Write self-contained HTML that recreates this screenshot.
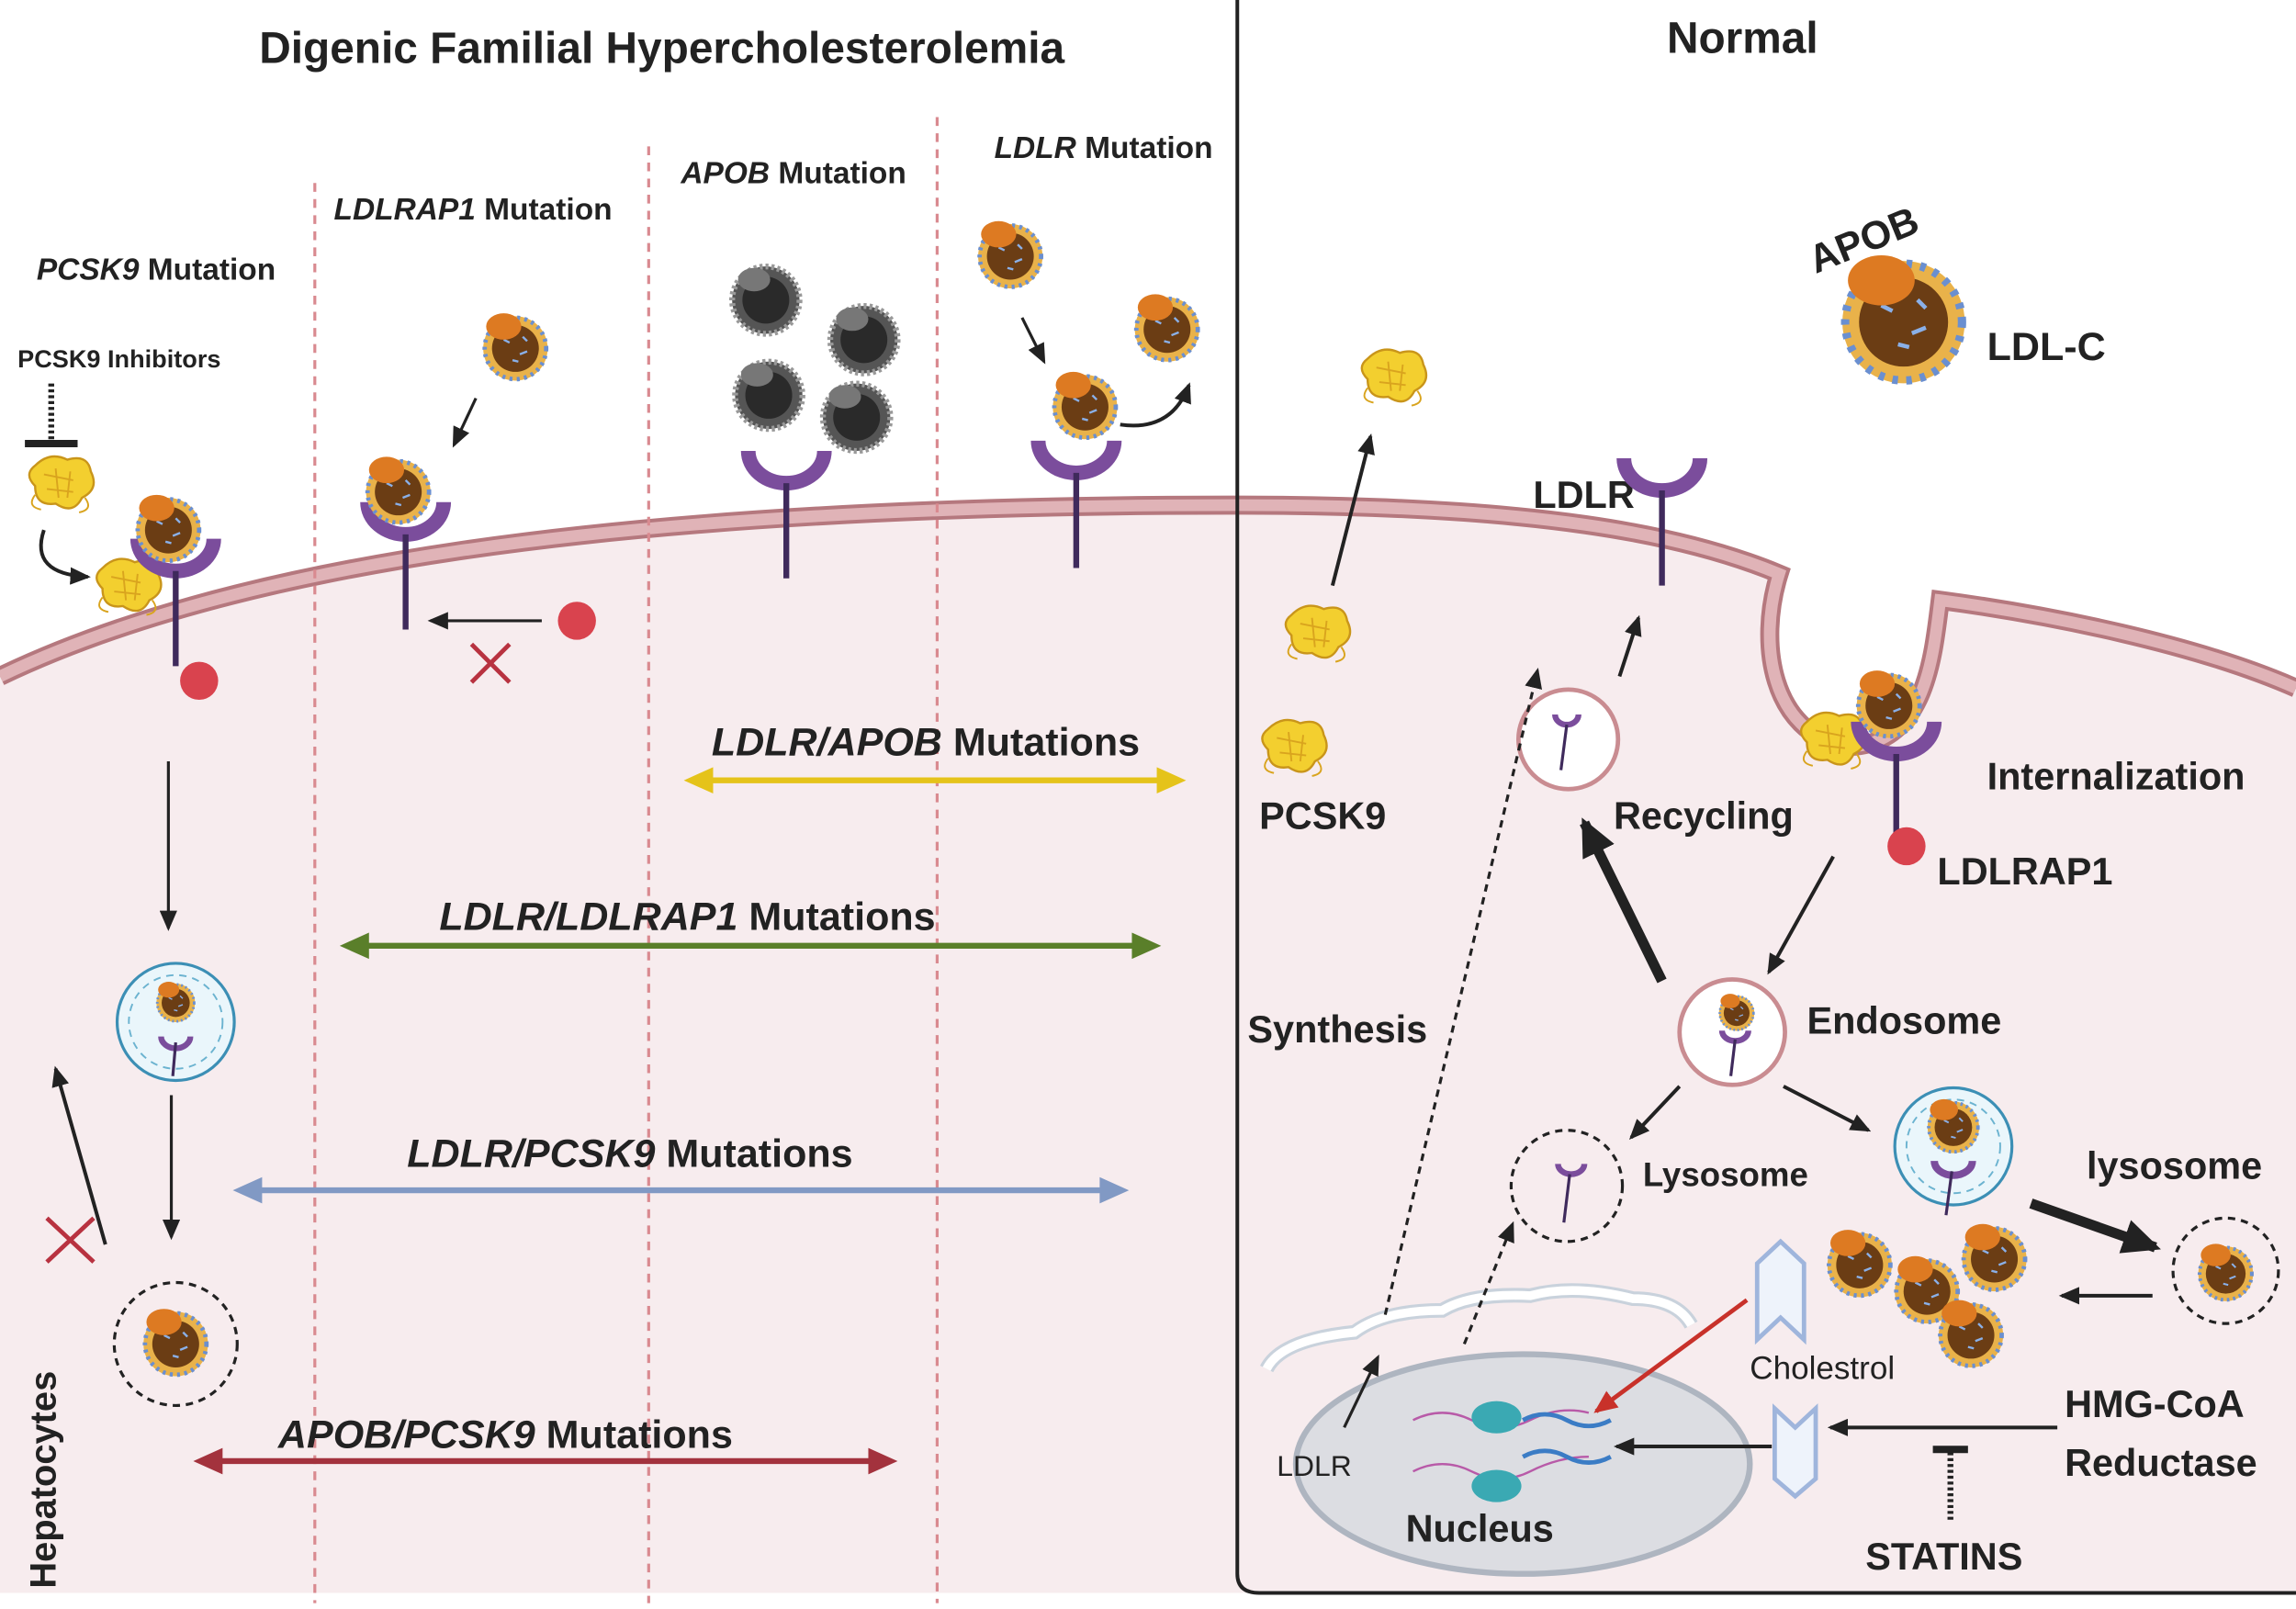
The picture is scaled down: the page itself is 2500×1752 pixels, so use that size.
<!DOCTYPE html>
<html><head><meta charset="utf-8"><style>
html,body{margin:0;padding:0;background:#fff}
svg{display:block}
text{font-family:"Liberation Sans",sans-serif;fill:#222}
.b{font-weight:bold}
</style></head><body>
<svg width="2500" height="1752" viewBox="0 0 1568 1099" preserveAspectRatio="none" xmlns="http://www.w3.org/2000/svg">
<defs>
<marker id="ah" markerWidth="14" markerHeight="12" refX="12" refY="6" orient="auto" markerUnits="userSpaceOnUse"><path d="M0,0 L14,6 L0,12 z" fill="#222"/></marker>
<marker id="ahr" markerWidth="16" markerHeight="14" refX="14" refY="7" orient="auto" markerUnits="userSpaceOnUse"><path d="M0,0 L16,7 L0,14 z" fill="#c8312a"/></marker>
<marker id="ahb" markerWidth="26" markerHeight="24" refX="22" refY="12" orient="auto" markerUnits="userSpaceOnUse"><path d="M0,0 L26,12 L0,24 z" fill="#222"/></marker>
<g id="ldl"><circle r="22" fill="#e9b24a"/><circle r="16" fill="#6b3d14"/><circle r="21" fill="none" stroke="#6a8fd0" stroke-width="3" stroke-dasharray="2 3"/><path d="M-8,-6 l4,2 M3,4 l5,-2 M-2,8 l4,1 M5,-8 l3,3" stroke="#8ab0e8" stroke-width="1.5"/><ellipse cx="-8" cy="-15" rx="12" ry="9" fill="#dd7a22"/></g>
<g id="gld"><circle r="23" fill="#555"/><circle r="16" fill="#2a2a2a"/><circle r="23" fill="none" stroke="#999" stroke-width="4" stroke-dasharray="2 2"/><ellipse cx="-8" cy="-14" rx="11" ry="8" fill="#777"/></g>
<g id="pc"><path d="M-18,-12 q10,-10 22,-4 q14,-4 16,8 q6,12 -6,18 q-6,12 -18,4 q-14,2 -14,-12 q-8,-8 0,-14z" fill="#f3cf2f" stroke="#c9951a" stroke-width="1.5"/><path d="M-12,-6 l20,4 M-10,4 l18,2 M-4,-10 l2,20 M6,-8 l-2,18" stroke="#d9a41e" stroke-width="1.2"/><path d="M-18,8 q-6,8 4,10 M16,10 q6,8 -4,10" fill="none" stroke="#d9a41e" stroke-width="1.2"/></g>
<g id="rec"><path d="M-26,-22 a26,22 0 0 0 52,0" fill="none" stroke="#7b4d9c" stroke-width="10"/><line x1="0" y1="0" x2="0" y2="65" stroke="#3f2a5c" stroke-width="4"/></g>
</defs>
<path d="M0,462 C150,390 400,345 845,345 C1050,345 1150,365 1215,392 C1200,440 1210,500 1260,510 C1315,510 1320,450 1325,410 C1400,420 1500,440 1568,470 L1568,1088 L0,1088 Z" fill="#f7ecee"/>
<path d="M0,462 C150,390 400,345 845,345 C1050,345 1150,365 1215,392 C1200,440 1210,500 1260,510 C1315,510 1320,450 1325,410 C1400,420 1500,440 1568,470" fill="none" stroke="#b5787e" stroke-width="13"/>
<path d="M0,462 C150,390 400,345 845,345 C1050,345 1150,365 1215,392 C1200,440 1210,500 1260,510 C1315,510 1320,450 1325,410 C1400,420 1500,440 1568,470" fill="none" stroke="#e0b3b7" stroke-width="8"/>
<path d="M845,0 L845,1075 Q845,1088 860,1088 L1568,1088" fill="none" stroke="#222" stroke-width="2.5"/>
<g stroke="#d98a90" stroke-width="2" stroke-dasharray="6 5"><line x1="215" y1="125" x2="215" y2="1095"/><line x1="443" y1="100" x2="443" y2="1095"/><line x1="640" y1="80" x2="640" y2="1095"/></g>
<text x="452" y="43" font-size="30" text-anchor="middle" class="b">Digenic Familial Hypercholesterolemia</text>
<text x="1190" y="36" font-size="30" text-anchor="middle" class="b">Normal</text>
<text x="25" y="191" font-size="21" class="b"><tspan font-style="italic">PCSK9</tspan> Mutation</text>
<text x="228" y="150" font-size="21" class="b"><tspan font-style="italic">LDLRAP1</tspan> Mutation</text>
<text x="465" y="125" font-size="21" class="b"><tspan font-style="italic">APOB</tspan> Mutation</text>
<text x="679" y="108" font-size="21" class="b"><tspan font-style="italic">LDLR</tspan> Mutation</text>
<text x="12" y="251" font-size="17" class="b">PCSK9 Inhibitors</text>
<line x1="35" y1="262" x2="35" y2="300" stroke="#222" stroke-width="4" stroke-dasharray="2 2"/><line x1="17" y1="303" x2="53" y2="303" stroke="#222" stroke-width="5"/>
<use href="#pc" x="42" y="330"/>
<path d="M30,362 q-10,30 30,32" fill="none" stroke="#222" stroke-width="2.5" marker-end="url(#ah)"/>
<use href="#pc" x="88" y="400"/>
<use href="#rec" x="120" y="390"/>
<use href="#ldl" x="115" y="362"/>
<circle cx="136" cy="465" r="13" fill="#d9434e"/>
<line x1="115" y1="520" x2="115" y2="634" stroke="#222" stroke-width="2" marker-end="url(#ah)"/>
<circle cx="120" cy="698" r="40" fill="#eaf6fb" stroke="#3c8fb5" stroke-width="2"/><circle cx="120" cy="698" r="32" fill="none" stroke="#6bb3d0" stroke-width="1.2" stroke-dasharray="5 4"/>
<g transform="translate(120,685) scale(0.6)"><use href="#ldl"/></g><path d="M110,708 a10,8 0 0 0 20,0" fill="none" stroke="#7b4d9c" stroke-width="4"/><line x1="120" y1="712" x2="118" y2="735" stroke="#3f2a5c" stroke-width="2"/>
<line x1="117" y1="748" x2="117" y2="845" stroke="#222" stroke-width="2" marker-end="url(#ah)"/>
<circle cx="120" cy="918" r="42" fill="none" stroke="#222" stroke-width="2" stroke-dasharray="5 4"/>
<use href="#ldl" x="120" y="918"/>
<line x1="72" y1="850" x2="38" y2="730" stroke="#222" stroke-width="2.5" marker-end="url(#ah)"/>
<path d="M32,832 l32,30 M64,832 l-32,30" stroke="#b83240" stroke-width="3"/>
<text transform="translate(38,1085) rotate(-90)" font-size="25" class="b">Hepatocytes</text>
<use href="#ldl" x="352" y="238"/>
<line x1="325" y1="272" x2="310" y2="304" stroke="#222" stroke-width="2" marker-end="url(#ah)"/>
<use href="#rec" x="277" y="365"/><use href="#ldl" x="272" y="336"/>
<line x1="370" y1="424" x2="294" y2="424" stroke="#222" stroke-width="2" marker-end="url(#ah)"/>
<circle cx="394" cy="424" r="13" fill="#d9434e"/>
<path d="M322,440 l26,26 M348,440 l-26,26" stroke="#b83240" stroke-width="3"/>
<use href="#gld" x="523" y="205"/><use href="#gld" x="590" y="232"/><use href="#gld" x="525" y="270"/><use href="#gld" x="585" y="285"/>
<use href="#rec" x="537" y="330"/>
<use href="#ldl" x="690" y="175"/><use href="#ldl" x="797" y="225"/>
<line x1="698" y1="217" x2="713" y2="247" stroke="#222" stroke-width="2" marker-end="url(#ah)"/>
<use href="#ldl" x="741" y="278"/>
<path d="M765,290 q35,5 47,-27" fill="none" stroke="#222" stroke-width="2.5" marker-end="url(#ah)"/>
<use href="#rec" x="735" y="323"/>
<g stroke-width="4">
<line x1="480" y1="533" x2="797" y2="533" stroke="#e5c31a"/><path d="M467,533 l20,-9 v18z M810,533 l-20,-9 v18z" fill="#e5c31a"/>
<line x1="245" y1="646" x2="780" y2="646" stroke="#5a7f2a"/><path d="M232,646 l20,-9 v18z M793,646 l-20,-9 v18z" fill="#5a7f2a"/>
<line x1="172" y1="813" x2="758" y2="813" stroke="#8199c4"/><path d="M159,813 l20,-9 v18z M771,813 l-20,-9 v18z" fill="#8199c4"/>
<line x1="145" y1="998" x2="600" y2="998" stroke="#a3323d"/><path d="M132,998 l20,-9 v18z M613,998 l-20,-9 v18z" fill="#a3323d"/>
</g>
<text x="486" y="516" font-size="27" class="b"><tspan font-style="italic">LDLR/APOB</tspan>  Mutations</text>
<text x="300" y="635" font-size="27" class="b"><tspan font-style="italic">LDLR/LDLRAP1</tspan> Mutations</text>
<text x="278" y="797" font-size="27" class="b"><tspan font-style="italic">LDLR/PCSK9</tspan> Mutations</text>
<text x="190" y="989" font-size="27" class="b"><tspan font-style="italic">APOB/PCSK9</tspan> Mutations</text>
<g transform="translate(1300,220) scale(1.9)"><use href="#ldl"/></g>
<text transform="translate(1240,187) rotate(-22)" font-size="27" class="b">APOB</text>
<text x="1357" y="246" font-size="27" class="b">LDL-C</text>
<use href="#pc" x="952" y="257"/>
<line x1="910" y1="400" x2="936" y2="298" stroke="#222" stroke-width="2.5" marker-end="url(#ah)"/>
<use href="#pc" x="900" y="432"/><use href="#pc" x="884" y="510"/>
<text x="860" y="566" font-size="26" class="b">PCSK9</text>
<text x="1047" y="347" font-size="26" class="b">LDLR</text>
<use href="#rec" x="1135" y="335"/>
<line x1="1106" y1="462" x2="1119" y2="422" stroke="#222" stroke-width="2.5" marker-end="url(#ah)"/>
<circle cx="1071" cy="505" r="34" fill="#fff" stroke="#c98c91" stroke-width="3"/><path d="M1062,488 a8,7 0 0 0 16,0" fill="none" stroke="#7b4d9c" stroke-width="4"/><line x1="1070" y1="495" x2="1066" y2="526" stroke="#3f2a5c" stroke-width="2"/>
<text x="1102" y="566" font-size="26" class="b">Recycling</text>
<use href="#pc" x="1252" y="505"/><use href="#rec" x="1295" y="515"/><use href="#ldl" x="1290" y="482"/>
<circle cx="1302" cy="578" r="13" fill="#d9434e"/>
<text x="1357" y="539" font-size="26" class="b">Internalization</text>
<text x="1323" y="604" font-size="26" class="b">LDLRAP1</text>
<line x1="1252" y1="585" x2="1208" y2="664" stroke="#222" stroke-width="2.5" marker-end="url(#ah)"/>
<line x1="1135" y1="670" x2="1082" y2="562" stroke="#222" stroke-width="7" marker-end="url(#ahb)"/>
<circle cx="1183" cy="705" r="36" fill="#fff" stroke="#c98c91" stroke-width="3"/><g transform="translate(1186,692) scale(0.55)"><use href="#ldl"/></g><path d="M1176,704 a9,7 0 0 0 18,0" fill="none" stroke="#7b4d9c" stroke-width="4"/><line x1="1185" y1="710" x2="1182" y2="735" stroke="#3f2a5c" stroke-width="2"/>
<text x="1234" y="706" font-size="26" class="b">Endosome</text>
<text x="852" y="712" font-size="26" class="b">Synthesis</text>
<line x1="1147" y1="742" x2="1114" y2="777" stroke="#222" stroke-width="2.5" marker-end="url(#ah)"/>
<line x1="1218" y1="742" x2="1276" y2="772" stroke="#222" stroke-width="2.5" marker-end="url(#ah)"/>
<circle cx="1070" cy="810" r="38" fill="none" stroke="#222" stroke-width="2" stroke-dasharray="5 4"/><path d="M1064,795 a9,7 0 0 0 18,0" fill="none" stroke="#7b4d9c" stroke-width="4"/><line x1="1072" y1="802" x2="1068" y2="835" stroke="#3f2a5c" stroke-width="2"/>
<text x="1122" y="810" font-size="23" class="b">Lysosome</text>
<circle cx="1334" cy="783" r="40" fill="#eaf6fb" stroke="#3c8fb5" stroke-width="2"/><circle cx="1334" cy="783" r="32" fill="none" stroke="#6bb3d0" stroke-width="1.2" stroke-dasharray="5 4"/>
<g transform="translate(1334,770) scale(0.8)"><use href="#ldl"/></g><path d="M1321,793 a12,9 0 0 0 26,0" fill="none" stroke="#7b4d9c" stroke-width="5"/><line x1="1333" y1="800" x2="1329" y2="830" stroke="#3f2a5c" stroke-width="2"/>
<text x="1425" y="805" font-size="26" class="b">lysosome</text>
<line x1="1387" y1="822" x2="1472" y2="852" stroke="#222" stroke-width="7" marker-end="url(#ahb)"/>
<circle cx="1520" cy="868" r="36" fill="none" stroke="#222" stroke-width="2" stroke-dasharray="5 4"/><g transform="translate(1520,870) scale(0.85)"><use href="#ldl"/></g>
<line x1="1470" y1="885" x2="1408" y2="885" stroke="#222" stroke-width="2.5" marker-end="url(#ah)"/>
<use href="#ldl" x="1270" y="864"/><use href="#ldl" x="1316" y="882"/><use href="#ldl" x="1362" y="860"/><use href="#ldl" x="1346" y="912"/>
<path d="M1200,915 V863 L1216,848 L1232,863 V915 L1216,900 Z" fill="#eef3fb" stroke="#9fb5dc" stroke-width="3"/>
<path d="M1212,1010 V962 L1226,975 L1240,962 V1010 L1226,1022 Z" fill="#eef3fb" stroke="#9fb5dc" stroke-width="3"/>
<text x="1195" y="942" font-size="22">Cholestrol</text>
<line x1="1405" y1="975" x2="1250" y2="975" stroke="#222" stroke-width="2.5" marker-end="url(#ah)"/>
<text x="1410" y="968" font-size="26" class="b">HMG-CoA</text>
<text x="1410" y="1008" font-size="26" class="b">Reductase</text>
<line x1="1320" y1="990" x2="1344" y2="990" stroke="#222" stroke-width="5"/><line x1="1332" y1="992" x2="1332" y2="1040" stroke="#222" stroke-width="4" stroke-dasharray="2 2"/>
<text x="1274" y="1072" font-size="26" class="b">STATINS</text>
<path d="M865,935 q10,-20 60,-25 q20,-15 60,-15 q20,-12 60,-10 q30,-8 70,2 q30,0 40,18" fill="none" stroke="#c9d2dc" stroke-width="10"/>
<path d="M865,935 q10,-20 60,-25 q20,-15 60,-15 q20,-12 60,-10 q30,-8 70,2 q30,0 40,18" fill="none" stroke="#fff" stroke-width="6"/>
<ellipse cx="1040" cy="1000" rx="155" ry="75" fill="#dcdde2" stroke="#aeb5c0" stroke-width="4"/>
<path d="M965,970 q20,-10 40,0 t40,0 t40,-5 M965,1005 q20,-10 40,0 t40,0 t40,-10" fill="none" stroke="#b85aa8" stroke-width="1.5"/>
<path d="M1040,970 q15,-8 30,0 t30,0 M1040,995 q15,-8 30,0 t30,0" fill="none" stroke="#3b7cc5" stroke-width="3"/>
<ellipse cx="1022" cy="968" rx="17" ry="11" fill="#3aa9b3"/><ellipse cx="1022" cy="1015" rx="17" ry="11" fill="#3aa9b3"/>
<text x="960" y="1053" font-size="26" class="b">Nucleus</text>
<text x="872" y="1008" font-size="20">LDLR</text>
<line x1="1193" y1="888" x2="1090" y2="964" stroke="#c8312a" stroke-width="3" marker-end="url(#ahr)"/>
<line x1="918" y1="975" x2="941" y2="927" stroke="#222" stroke-width="2" marker-end="url(#ah)"/>
<line x1="946" y1="898" x2="1050" y2="458" stroke="#222" stroke-width="2" stroke-dasharray="5 4" marker-end="url(#ah)"/>
<line x1="1000" y1="918" x2="1033" y2="836" stroke="#222" stroke-width="2" stroke-dasharray="5 4" marker-end="url(#ah)"/>
<line x1="1210" y1="988" x2="1104" y2="988" stroke="#222" stroke-width="2.5" marker-end="url(#ah)"/>
</svg>
</body></html>
